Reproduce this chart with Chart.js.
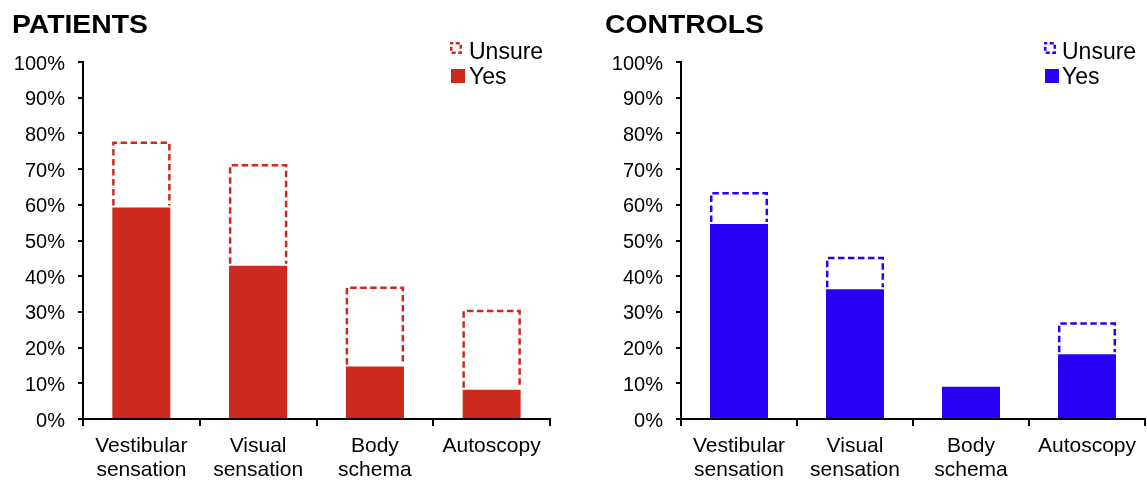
<!DOCTYPE html>
<html>
<head>
<meta charset="utf-8">
<script src="https://cdn.jsdelivr.net/npm/chart.js@4.4.1/dist/chart.umd.min.js"></script>
<style>
  html, body { margin: 0; padding: 0; background: #fff; }
  body { width: 1147px; height: 480px; position: relative; overflow: hidden; font-family: "Liberation Sans", Arial, sans-serif; }
  .panel { position: absolute; top: 0; height: 480px; }
  .title { position: absolute; font-weight: bold; font-size: 26px; line-height: 26px; color: #000; transform: scaleX(1.09); transform-origin: left top; white-space: nowrap; }
  .lg-text { position: absolute; font-size: 23px; line-height: 23px; color: #000; white-space: nowrap; }
  .lg-icon { position: absolute; }
</style>
</head>
<body>
<div class="panel" style="left:0;width:573px;"><canvas id="c1" width="573" height="480"></canvas></div>
<div class="panel" style="left:573px;width:574px;"><canvas id="c2" width="574" height="480"></canvas></div>

<div class="title" style="left:12px;top:11px;">PATIENTS</div>
<div class="title" style="left:605px;top:11px;">CONTROLS</div>

<svg class="lg-icon" style="left:450px;top:42px;" width="12" height="12"><rect x="1.25" y="1.25" width="9.5" height="9.5" fill="#fff" stroke="#cc2a1e" stroke-width="2.5" stroke-dasharray="4 2.5" stroke-dashoffset="2"/></svg>
<div class="lg-text" style="left:469px;top:40px;">Unsure</div>
<svg class="lg-icon" style="left:451px;top:69px;" width="14" height="14"><rect x="0" y="0" width="14" height="14" fill="#cc2a1e"/></svg>
<div class="lg-text" style="left:469px;top:65px;">Yes</div>

<svg class="lg-icon" style="left:1044px;top:42px;" width="12" height="12"><rect x="1.25" y="1.25" width="9.5" height="9.5" fill="#fff" stroke="#2a00f5" stroke-width="2.5" stroke-dasharray="4 2.5" stroke-dashoffset="2"/></svg>
<div class="lg-text" style="left:1062px;top:40px;">Unsure</div>
<svg class="lg-icon" style="left:1045px;top:69px;" width="14" height="14"><rect x="0" y="0" width="14" height="14" fill="#2a00f5"/></svg>
<div class="lg-text" style="left:1062px;top:65px;">Yes</div>

<script>
// ---- data ----
const categories = [["Vestibular", "sensation"], ["Visual", "sensation"], ["Body", "schema"], ["Autoscopy"]];
const yTicks = [0, 10, 20, 30, 40, 50, 60, 70, 80, 90, 100];
const patientsYes = [59.5, 43.2, 15.0, 8.5];
const patientsUnsure = [18.2, 28.2, 22.1, 22.1];
const controlsYes = [54.9, 36.6, 9.3, 18.4];
const controlsUnsure = [8.7, 8.8, 0, 8.7];

const RED = "#cc2a1e";
const BLUE = "#2a00f5";

Chart.defaults.font.family = '"Liberation Sans", Arial, sans-serif';
Chart.defaults.color = "#000";

const dashedOutline = {
  id: "dashedOutline",
  afterDatasetsDraw(chart, args, opts) {
    const meta = chart.getDatasetMeta(1);
    const ctx = chart.ctx;
    const data = chart.data.datasets[1].data;
    ctx.save();
    ctx.strokeStyle = opts.color;
    ctx.lineWidth = 2.5;
    ctx.setLineDash([6.5, 3.5]);
    meta.data.forEach((el, i) => {
      if (!data[i]) return;
      const p = el.getProps(["x", "y", "base", "width"], true);
      const l = p.x - p.width / 2 + 1.2, r = p.x + p.width / 2 - 1.2;
      const t = p.y + 1.2, b = p.base - 1;
      ctx.beginPath();
      ctx.moveTo(l, b);
      ctx.lineTo(l, t);
      ctx.lineTo(r, t);
      ctx.lineTo(r, b);
      ctx.stroke();
    });
    ctx.restore();
  }
};

function makeChart(id, yes, unsure, color, yWidth, padRight) {
  return new Chart(document.getElementById(id), {
    type: "bar",
    data: {
      labels: categories,
      datasets: [
        { label: "Yes", data: yes, backgroundColor: color, borderColor: "#ffffff",
          borderWidth: { top: 1, left: 0, right: 0, bottom: 0 }, borderSkipped: false,
          barPercentage: 0.5, categoryPercentage: 1.0, stack: "s" },
        { label: "Unsure", data: unsure, backgroundColor: "rgba(255,255,255,0)", borderWidth: 0,
          barPercentage: 0.5, categoryPercentage: 1.0, stack: "s" }
      ]
    },
    options: {
      responsive: false,
      animation: false,
      events: [],
      layout: { padding: { left: 0, right: padRight, top: 62, bottom: 0 } },
      plugins: {
        legend: { display: false },
        tooltip: { enabled: false },
        title: { display: false },
        dashedOutline: { color: color }
      },
      scales: {
        x: {
          stacked: true,
          offset: true,
          grid: { display: true, drawOnChartArea: false, drawTicks: true, tickLength: 7, color: "#000", lineWidth: 2, offset: true },
          border: { display: true, color: "#000", width: 2 },
          ticks: { font: { size: 21, lineHeight: 1.15 }, color: "#000", padding: 8, maxRotation: 0, autoSkip: false },
          afterFit(s) { s.height = 61; }
        },
        y: {
          stacked: true,
          min: 0, max: 100,
          afterBuildTicks(s) { s.ticks = yTicks.map(v => ({ value: v })); },
          grid: { display: true, drawOnChartArea: false, drawTicks: true, tickLength: 5, color: "#000", lineWidth: 2 },
          border: { display: true, color: "#000", width: 2 },
          ticks: { font: { size: 20 }, color: "#000", padding: 13, labelOffset: 2, callback: v => v + "%" },
          afterFit(s) { s.width = yWidth; }
        }
      }
    },
    plugins: [dashedOutline]
  });
}

makeChart("c1", patientsYes, patientsUnsure, RED, 83, 23);
makeChart("c2", controlsYes, controlsUnsure, BLUE, 108, 2);
</script>
</body>
</html>
